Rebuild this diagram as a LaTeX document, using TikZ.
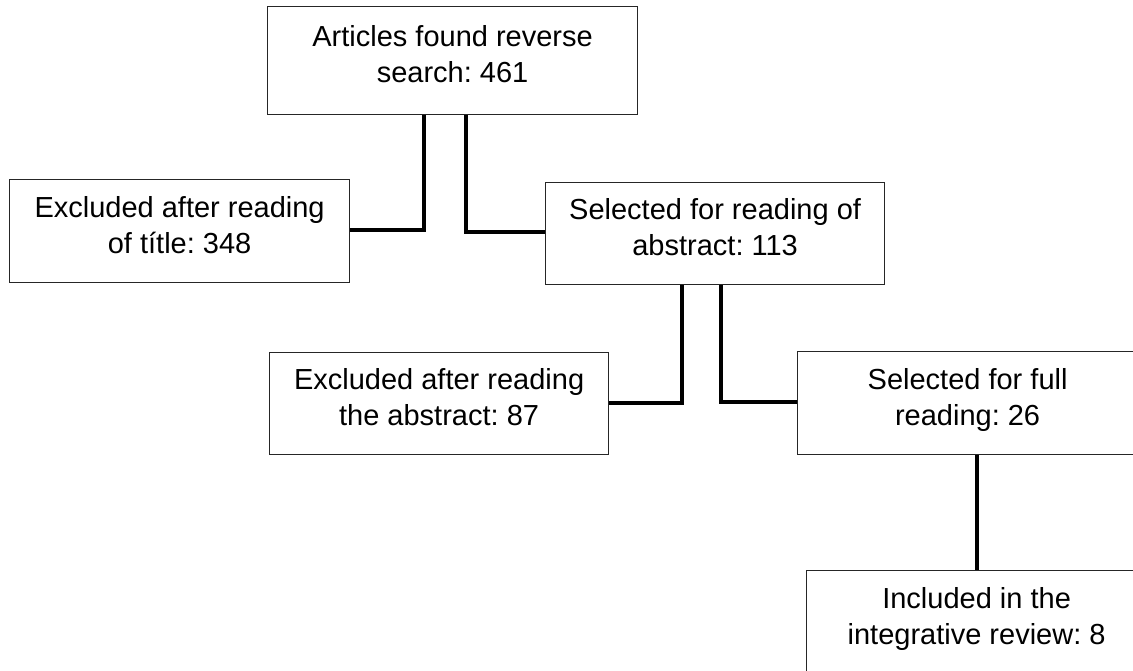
\documentclass[tikz,border=0pt]{standalone}
\usepackage{fontspec}
\setmainfont{Liberation Sans}
\frenchspacing
\begin{document}
\begin{tikzpicture}[x=1pt,y=-1pt,
  box/.style={draw=black!85, line width=1.2pt, inner sep=0pt, anchor=north west,
    align=center, text depth=13pt, font=\fontsize{29}{36}\selectfont},
  conn/.style={draw=black, line width=4pt}]
\useasboundingbox[fill=white] (0,0) rectangle (1133,671);
\clip (0,0) rectangle (1133,671);
\node[box, minimum width=370pt, minimum height=108pt] (top) at (267,6) {Articles found reverse\\search: 461};
\node[box, minimum width=340pt, minimum height=103pt] (excl1) at (9,179) {Excluded after reading\\of títle: 348};
\node[box, minimum width=339pt, minimum height=102pt] (sel1) at (545,182) {Selected for reading of\\abstract: 113};
\node[box, minimum width=339pt, minimum height=102pt] (excl2) at (269,352) {Excluded after reading\\the abstract: 87};
\node[box, minimum width=340pt, minimum height=103pt] (sel2) at (797,351) {Selected for full\\reading: 26};
\node[box, minimum width=340pt, minimum height=103pt] (inc) at (806,570) {Included in the\\integrative review: 8};
\coordinate (j1) at (424,230);
\coordinate (j2) at (466,232);
\coordinate (j3) at (682,403);
\coordinate (j4) at (721,402);
\draw[conn] (top.south -| j1) -- (j1) -- (excl1.east |- j1);
\draw[conn] (top.south -| j2) -- (j2) -- (sel1.west |- j2);
\draw[conn] (sel1.south -| j3) -- (j3) -- (excl2.east |- j3);
\draw[conn] (sel1.south -| j4) -- (j4) -- (sel2.west |- j4);
\draw[conn] (sel2.south -| inc.north) -- (inc.north);
\end{tikzpicture}
\end{document}
